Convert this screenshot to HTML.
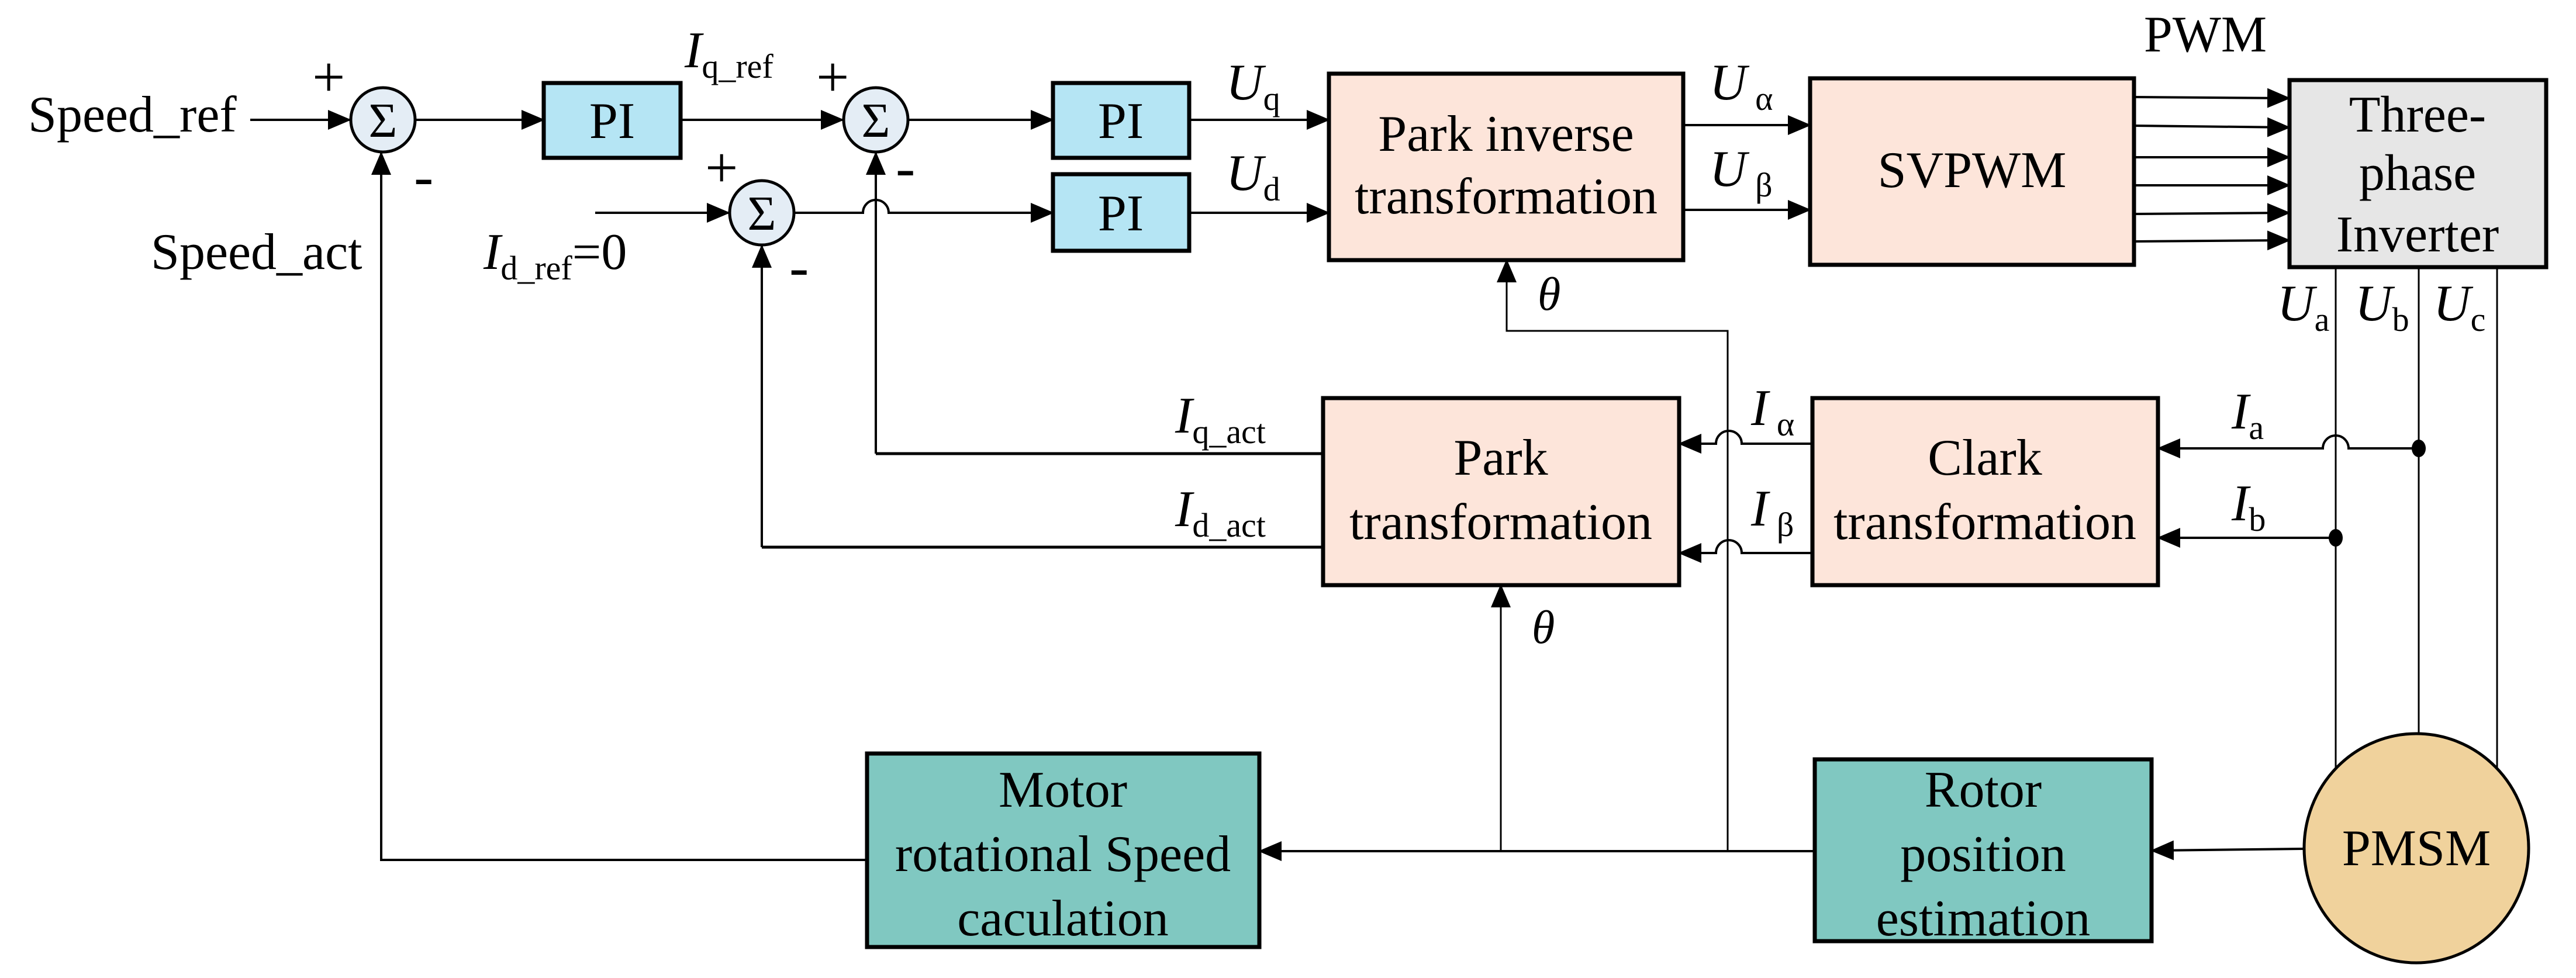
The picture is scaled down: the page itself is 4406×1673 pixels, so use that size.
<!DOCTYPE html>
<html><head><meta charset="utf-8"><style>
html,body{margin:0;padding:0;background:#fff}
svg{display:block}
text,tspan{font-family:"Liberation Serif","Times New Roman",Times,"DejaVu Serif",serif}
</style></head><body>
<svg width="4406" height="1673" viewBox="0 0 4406 1673" xmlns="http://www.w3.org/2000/svg" font-family="Liberation Serif, Times New Roman, serif">
<defs>
<marker id="a" markerUnits="userSpaceOnUse" markerWidth="40" markerHeight="34" refX="38" refY="17" orient="auto">
<path d="M0,0 L40,17 L0,34 Z" fill="#000"/>
</marker>
</defs>
<g fill="none" stroke="#000" stroke-width="4">
<path d="M428 205 H599" marker-end="url(#a)"/>
<path d="M711 205 H930" marker-end="url(#a)"/>
<path d="M1164 205 H1442" marker-end="url(#a)"/>
<path d="M1554 205 H1801" marker-end="url(#a)"/>
<path d="M1018 364 H1247" marker-end="url(#a)"/>
<path d="M1359 364 H1476 A22 22 0 0 1 1520 364 H1801" marker-end="url(#a)"/>
<path d="M2034 205 H2273" marker-end="url(#a)"/>
<path d="M2034 364 H2273" marker-end="url(#a)"/>
<path d="M2879 214 H3096" marker-end="url(#a)"/>
<path d="M2879 359 H3096" marker-end="url(#a)"/>
<path d="M3650 166 L3916 168" marker-end="url(#a)"/>
<path d="M3650 215 L3916 218" marker-end="url(#a)"/>
<path d="M3650 269 H3916" marker-end="url(#a)"/>
<path d="M3650 317 H3916" marker-end="url(#a)"/>
<path d="M3650 366 L3916 364" marker-end="url(#a)"/>
<path d="M3650 413 L3916 411" marker-end="url(#a)"/>
<path d="M1498 776 V261" marker-end="url(#a)"/>
<path d="M1498 776 H2263" stroke-width="5"/>
<path d="M1303 936 V420" marker-end="url(#a)"/>
<path d="M1303 936 H2263" stroke-width="5"/>
<path d="M1483 1471 H652 V261" marker-end="url(#a)"/>
<path d="M3100 759 H2979 A22 22 0 0 0 2935 759 H2872" marker-end="url(#a)"/>
<path d="M3100 946 H2979 A22 22 0 0 0 2935 946 H2872" marker-end="url(#a)"/>
<path d="M4137 767 H4017 A22 22 0 0 0 3973 767 H3691" marker-end="url(#a)"/>
<path d="M3995 920 H3691" marker-end="url(#a)"/>
<path d="M2955 1456 V566 H2577 V445" stroke-width="3" marker-end="url(#a)"/>
<path d="M2567 1456 V1001" stroke-width="3" marker-end="url(#a)"/>
<path d="M3104 1456 H2154" marker-end="url(#a)"/>
<path d="M3941 1452 L3680 1455" marker-end="url(#a)"/>
<path d="M3995 457 V1340" stroke-width="3"/>
<path d="M4137 457 V1256" stroke-width="3"/>
<path d="M4271 457 V1330" stroke-width="3"/>
</g>
<ellipse cx="4137" cy="767" rx="12" ry="15"/>
<ellipse cx="3995" cy="920" rx="12" ry="15"/>
<g fill="#e4edf5" stroke="#000" stroke-width="5">
<circle cx="655" cy="205" r="55"/>
<circle cx="1498" cy="205" r="55"/>
<circle cx="1303" cy="364" r="55"/>
</g>
<g font-size="84" text-anchor="middle">
<text x="655" y="234">Σ</text><text x="1498" y="234">Σ</text><text x="1303" y="393">Σ</text>
</g>
<g stroke="#000" stroke-width="7">
<rect x="930" y="142" width="234" height="128" fill="#b5e5f4"/>
<rect x="1801" y="142" width="233" height="128" fill="#b5e5f4"/>
<rect x="1801" y="298" width="233" height="131" fill="#b5e5f4"/>
<rect x="2273" y="126" width="606" height="319" fill="#fde5da"/>
<rect x="3096" y="134" width="554" height="319" fill="#fde5da"/>
<rect x="3916" y="137" width="439" height="320" fill="#e6e6e6"/>
<rect x="2263" y="681" width="609" height="320" fill="#fde5da"/>
<rect x="3100" y="681" width="591" height="320" fill="#fde5da"/>
<rect x="1483" y="1289" width="671" height="331" fill="#80c8c1"/>
<rect x="3104" y="1299" width="576" height="311" fill="#80c8c1"/>
<ellipse cx="4133" cy="1451" rx="192" ry="196" fill="#f0d29c" stroke-width="5"/>
</g>
<g font-size="88" text-anchor="middle">
<text x="1047" y="236">PI</text>
<text x="1917" y="236">PI</text>
<text x="1917" y="394">PI</text>
<text x="2576" y="258">Park inverse</text>
<text x="2576" y="365">transformation</text>
<text x="3373" y="320">SVPWM</text>
<text x="4135" y="225">Three-</text>
<text x="4135" y="325">phase</text>
<text x="4135" y="430">Inverter</text>
<text x="2567" y="812">Park</text>
<text x="2567" y="922">transformation</text>
<text x="3395" y="812">Clark</text>
<text x="3395" y="922">transformation</text>
<text x="1818" y="1380">Motor</text>
<text x="1818" y="1490">rotational Speed</text>
<text x="1818" y="1600">caculation</text>
<text x="3392" y="1380">Rotor</text>
<text x="3392" y="1490">position</text>
<text x="3392" y="1600">estimation</text>
<text x="4133" y="1480">PMSM</text>
<text x="3772" y="88">PWM</text>
</g>
<g font-size="88">
<text x="48" y="225">Speed_ref</text>
<text x="258" y="460">Speed_act</text>
<text x="534" y="165" font-size="100">+</text>
<text x="708" y="335" font-size="100">-</text>
<text x="1396" y="165" font-size="100">+</text>
<text x="1532" y="320" font-size="100">-</text>
<text x="1206" y="320" font-size="100">+</text>
<text x="1350" y="490" font-size="100">-</text>
<text x="1171" y="115"><tspan font-style="italic">I</tspan><tspan font-size="58" dy="18">q_ref</tspan></text>
<text x="827" y="460"><tspan font-style="italic">I</tspan><tspan font-size="58" dy="18">d_ref</tspan><tspan dy="-18">=0</tspan></text>
<text x="2097" y="170"><tspan font-style="italic">U</tspan><tspan font-size="58" dy="18">q</tspan></text>
<text x="2097" y="325"><tspan font-style="italic">U</tspan><tspan font-size="58" dy="18">d</tspan></text>
<text x="2924" y="170"><tspan font-style="italic">U</tspan><tspan font-size="58" dy="18"> α</tspan></text>
<text x="2924" y="318"><tspan font-style="italic">U</tspan><tspan font-size="58" dy="18"> β</tspan></text>
<text x="2010" y="740"><tspan font-style="italic">I</tspan><tspan font-size="58" dy="18">q_act</tspan></text>
<text x="2010" y="900"><tspan font-style="italic">I</tspan><tspan font-size="58" dy="18">d_act</tspan></text>
<text x="2995" y="727"><tspan font-style="italic">I</tspan><tspan font-size="58" dy="18"> α</tspan></text>
<text x="2995" y="899"><tspan font-style="italic">I</tspan><tspan font-size="58" dy="18"> β</tspan></text>
<text x="3817" y="733"><tspan font-style="italic">I</tspan><tspan font-size="58" dy="18">a</tspan></text>
<text x="3817" y="890"><tspan font-style="italic">I</tspan><tspan font-size="58" dy="18">b</tspan></text>
<text x="3895" y="548"><tspan font-style="italic">U</tspan><tspan font-size="58" dy="18">a</tspan></text>
<text x="4028" y="548"><tspan font-style="italic">U</tspan><tspan font-size="58" dy="18">b</tspan></text>
<text x="4162" y="548"><tspan font-style="italic">U</tspan><tspan font-size="58" dy="18">c</tspan></text>
<text x="2630" y="530" font-style="italic" font-size="80">θ</text>
<text x="2620" y="1100" font-style="italic" font-size="80">θ</text>
</g>
</svg>
</body></html>
